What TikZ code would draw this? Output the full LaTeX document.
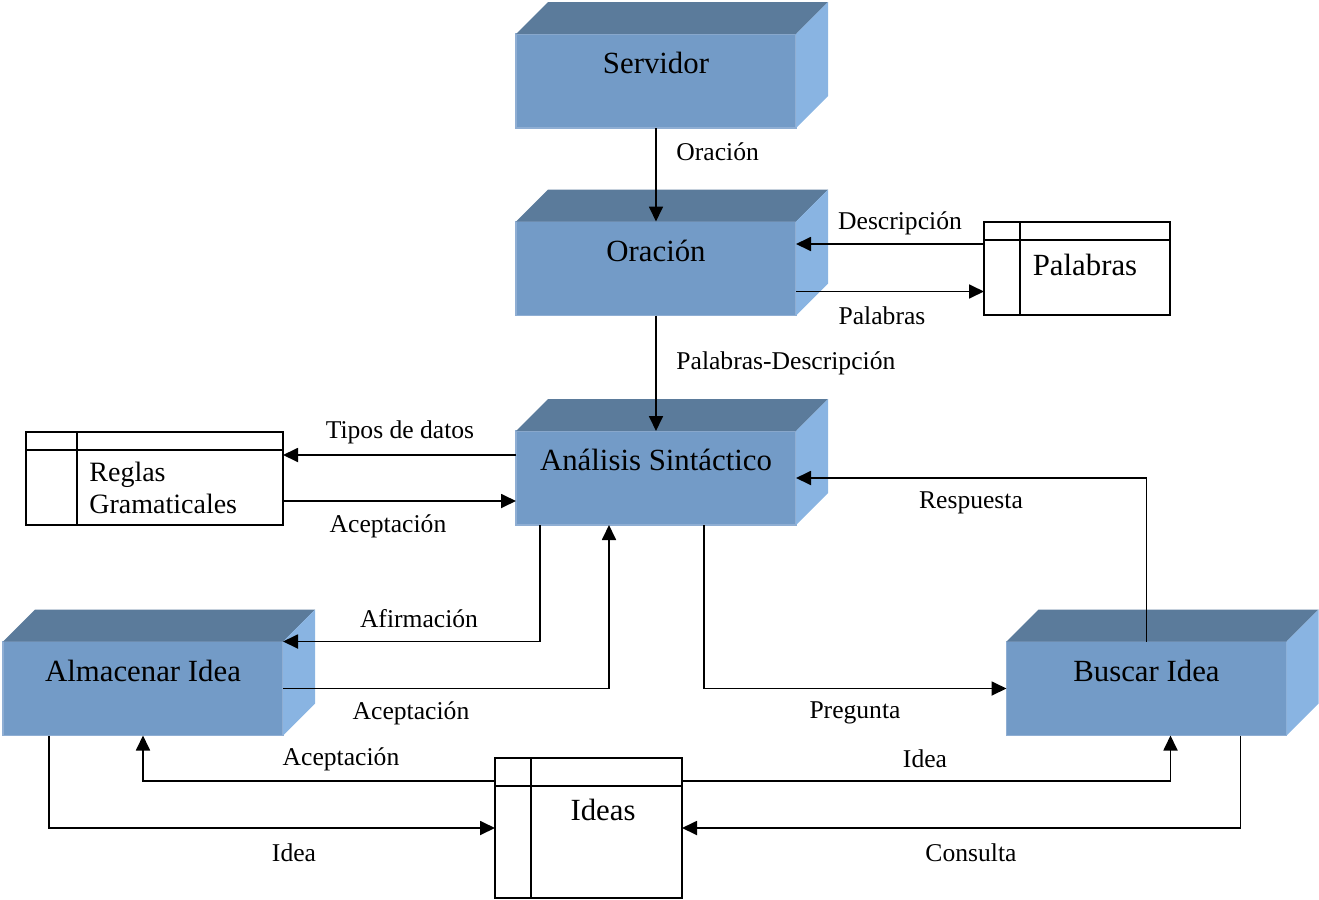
\documentclass[tikz,border=0pt]{standalone}
\usepackage{fontspec}
\setmainfont{Liberation Serif}
\usetikzlibrary{calc,arrows.meta}

\definecolor{frontc}{HTML}{739BC7}
\definecolor{topc}{HTML}{5B7B9B}
\definecolor{sidec}{HTML}{89B4E2}
\definecolor{edgec}{HTML}{8FAED3}

\tikzset{
  front/.style={rectangle, fill=frontc, draw=edgec, line width=0.6pt,
    minimum width=140pt, minimum height=47pt, inner sep=0pt, outer sep=0pt},
  topface/.style={fill=topc},
  sideface/.style={fill=sidec},
  boxlabel/.style={font=\fontsize{15.4}{18}\selectfont, inner sep=1pt},
  storebox/.style={rectangle, draw, line width=0.9pt, inner sep=0pt, outer sep=0pt},
  storeline/.style={line width=0.9pt},
  storelabel/.style={font=\fontsize{15.4}{17.5}\selectfont, inner sep=1pt},
  flow/.style={line width=0.9pt, -{Triangle[length=7.5pt,width=7pt]}},
  flowlabel/.style={font=\fontsize{12.8}{15}\selectfont, inner sep=1pt},
}

% process block drawn as a solid box: front face, top face, right face
\newcommand\blockbox[3]{%
  \node[front] (#1) at (#2) {};
  \fill[topface] (#1.north west) -- ++(32,-32) -- ($(#1.north east)+(32,-32)$) -- (#1.north east) -- cycle;
  \fill[sideface] (#1.north east) -- ++(32,-32) -- ($(#1.south east)+(32,-32)$) -- (#1.south east) -- cycle;
  \node[boxlabel] (#1-t) at ($(#1.center)+(0,-18)$) {#3};
}

% data store: framed box with header row and left column
\newcommand\datastore[6]{%
  \node[storebox, minimum width=#3, minimum height=#4] (#1) at (#2) {};
  \draw[storeline] ($(#1.north west)+(0,#5)$) -- ($(#1.north east)+(0,#5)$);
  \draw[storeline] ($(#1.north west)+(#6,0)$) -- ($(#1.south west)+(#6,0)$);
}

\begin{document}
\begin{tikzpicture}[x=0.5pt,y=-0.5pt]
\useasboundingbox (0,0) rectangle (1319,900);

% processes
\blockbox{serv}{656,81}{Servidor}
\blockbox{orac}{656,268.5}{Oración}
\blockbox{ana}{656,478}{Análisis Sintáctico}
\blockbox{alm}{143,688.5}{Almacenar Idea}
\blockbox{bus}{1146.5,688.5}{Buscar Idea}

% data stores
\datastore{pal}{1077,268.5}{93pt}{46.5pt}{18}{36}
\node[storelabel] (pal-t) at (1085,265) {Palabras};

\datastore{reg}{154.5,478.5}{128.5pt}{46.5pt}{18}{51}
\node[storelabel, font=\fontsize{14}{16}\selectfont, anchor=west, align=left] (reg-t) at (87,488) {Reglas\\Gramaticales};

\datastore{ideas}{588.5,828}{93.5pt}{70pt}{28}{36}
\node[storelabel] (ideas-t) at (603,810) {Ideas};

% flows
\draw[flow] (serv.south) -- (orac.north);
\node[flowlabel, anchor=west] (l1) at (674,152) {Oración};

\coordinate (p1) at ($(pal.north west)+(0,22)$);
\draw[flow] (p1) -- (p1 -| orac.east);
\node[flowlabel] (l2) at (900,223) {Descripción};

\coordinate (p2) at ($(orac.south east)+(0,-24)$);
\draw[flow] (p2) -- (p2 -| pal.west);
\node[flowlabel] (l3) at (882,316) {Palabras};

\draw[flow] (orac.south) -- (ana.north);
\node[flowlabel, anchor=west] (l4) at (674,363) {Palabras-Descripción};

\coordinate (a1) at ($(ana.north west)+(0,24)$);
\draw[flow] (a1) -- (a1 -| reg.east);
\node[flowlabel] (l5) at (400,432) {Tipos de datos};

\coordinate (a2) at ($(reg.south east)+(0,-24)$);
\draw[flow] (a2) -- (a2 -| ana.west);
\node[flowlabel] (l6) at (388,526) {Aceptación};

\coordinate (a3) at ($(ana.south west)+(24,0)$);
\draw[flow] (a3) |- (alm.north east);
\node[flowlabel] (l7) at (419,619) {Afirmación};

\coordinate (a4) at ($(ana.south west)+(93,0)$);
\draw[flow] (alm.east) -| (a4);
\node[flowlabel] (l8) at (411,713) {Aceptación};

\coordinate (a5) at ($(ana.south west)+(188,0)$);
\draw[flow] (a5) |- (bus.west);
\node[flowlabel] (l9) at (855,713) {Pregunta};

\draw[flow] (bus.north) |- (ana.east);
\node[flowlabel] (l10) at (971,503) {Respuesta};

\coordinate (i1) at ($(ideas.north west)+(0,23)$);
\draw[flow] (i1) -| (alm.south);
\node[flowlabel] (l11) at (341,759) {Aceptación};

\coordinate (i2) at ($(ideas.north east)+(0,23)$);
\coordinate (b1) at ($(bus.south west)+(164,0)$);
\draw[flow] (i2) -| (b1);
\node[flowlabel] (l12) at (925,759) {Idea};

\coordinate (m1) at ($(alm.south west)+(46,0)$);
\draw[flow] (m1) |- (ideas.west);
\node[flowlabel] (l13) at (294,853) {Idea};

\coordinate (b2) at ($(bus.south west)+(234,0)$);
\draw[flow] (b2) |- (ideas.east);
\node[flowlabel] (l14) at (971,853) {Consulta};
\end{tikzpicture}
\end{document}
